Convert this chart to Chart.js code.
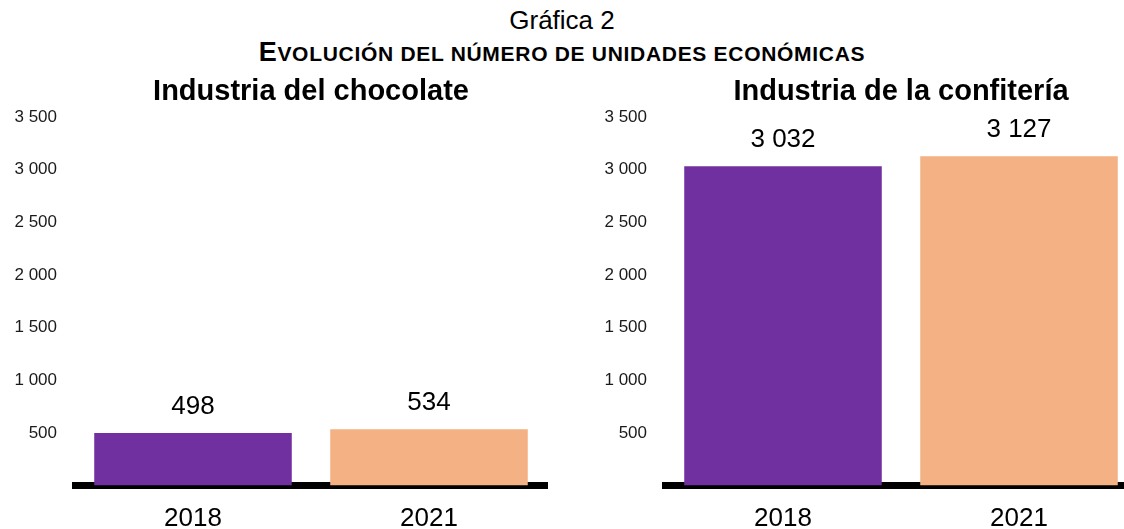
<!DOCTYPE html>
<html>
<head>
<meta charset="utf-8">
<script src="https://cdn.jsdelivr.net/npm/chart.js@4.4.1/dist/chart.umd.min.js"></script>
<style>
  html, body { margin: 0; padding: 0; background: #fff; }
  body { width: 1124px; height: 529px; overflow: hidden; position: relative; font-family: "Liberation Sans", Arial, sans-serif; }
  #t1 { position: absolute; left: 0; width: 1124px; top: 5px; text-align: center; font-size: 26px; color: #000; line-height: 30px; }
  #t2 { position: absolute; left: 0; width: 1124px; top: 38px; text-align: center; font-size: 21px; font-weight: bold; color: #000; line-height: 28px; white-space: nowrap; letter-spacing: 0.7px; }
  #t2 .b { font-size: 27px; }
  .panel { position: absolute; top: 66px; width: 560px; height: 463px; }
  #p1 { left: 0; }
  #p2 { left: 590px; }
</style>
</head>
<body>
<div id="t1">Gráfica 2</div>
<div id="t2"><span class="b">E</span>VOLUCIÓN DEL NÚMERO DE UNIDADES ECONÓMICAS</div>
<div class="panel" id="p1"><canvas id="c1"></canvas></div>
<div class="panel" id="p2"><canvas id="c2"></canvas></div>
<script>
const years = ['2018', '2021'];
const chocolateUnits = [498, 534];
const confiteriaUnits = [3032, 3127];
const panelTitles = ['Industria del chocolate', 'Industria de la confitería'];
const yMax = 3500;
const yStep = 500;
const barColors = ['#7030A0', '#F4B183'];

function fmt(n) {
  return String(n).replace(/\B(?=(\d{3})+(?!\d))/g, ' ');
}

const valueLabels = {
  id: 'valueLabels',
  afterDatasetsDraw(chart) {
    const ctx = chart.ctx;
    const meta = chart.getDatasetMeta(0);
    const data = chart.data.datasets[0].data;
    ctx.save();
    ctx.font = '26px "Liberation Sans", Arial, sans-serif';
    ctx.fillStyle = '#000';
    ctx.textAlign = 'center';
    ctx.textBaseline = 'middle';
    meta.data.forEach((bar, i) => {
      ctx.fillText(fmt(data[i]), bar.x, bar.y - 26);
    });
    ctx.restore();
  }
};

function makeChart(id, title, values) {
  return new Chart(document.getElementById(id), {
    type: 'bar',
    data: {
      labels: years,
      datasets: [{ data: values, backgroundColor: barColors, borderWidth: 0, categoryPercentage: 1, barPercentage: 0.837 }]
    },
    plugins: [valueLabels],
    options: {
      responsive: true,
      maintainAspectRatio: false,
      animation: false,
      events: [],
      layout: { padding: { left: 0, right: 13, top: 0, bottom: 0 } },
      plugins: {
        legend: { display: false },
        tooltip: { enabled: false },
        title: {
          display: true,
          text: title,
          fullSize: false,
          color: '#000',
          font: { family: '"Liberation Sans", Arial, sans-serif', size: 29, weight: 'bold', lineHeight: 1.2 },
          padding: { top: 9, bottom: 7.2 }
        }
      },
      scales: {
        x: {
          z: 1,
          grid: { display: false, drawTicks: false },
          border: { display: true, color: '#000', width: 7 },
          ticks: { color: '#000', padding: 18, font: { family: '"Liberation Sans", Arial, sans-serif', size: 26 } },
          afterFit(scale) { scale.height = 43.5; }
        },
        y: {
          min: 0,
          max: yMax,
          grid: { display: false, drawTicks: false },
          border: { display: false },
          ticks: {
            stepSize: yStep,
            color: '#1a1a1a',
            padding: 18,
            font: { family: '"Liberation Sans", Arial, sans-serif', size: 17 },
            callback: (v) => v === 0 ? '' : fmt(v)
          },
          afterFit(scale) { scale.width = 75; }
        }
      }
    }
  });
}

makeChart('c1', panelTitles[0], chocolateUnits);
makeChart('c2', panelTitles[1], confiteriaUnits);
</script>
</body>
</html>
